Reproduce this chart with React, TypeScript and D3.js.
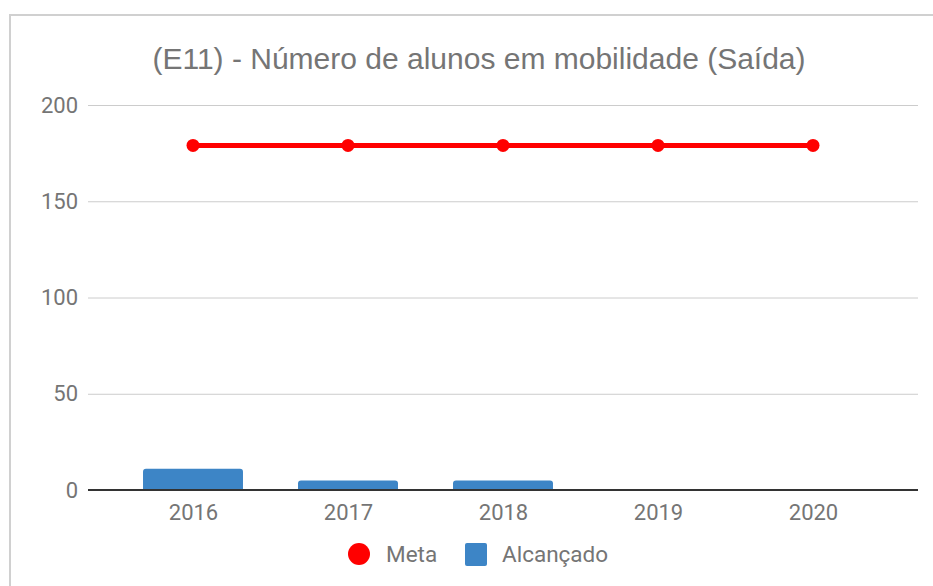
import React, { useEffect, useRef } from "react";
import * as d3 from "d3";

const years = ["2016", "2017", "2018", "2019", "2020"];
const meta = [179, 179, 179, 179, 179];
const alcancado = [11, 5, 5, 0, 0];
const yTicks = [0, 50, 100, 150, 200];

const W = 933;
const H = 586;

const App = () => {
  const svgRef = useRef<SVGSVGElement>(null);

  useEffect(() => {
    const svg = d3.select(svgRef.current);
    svg.selectAll("*").remove(); // start clean

    const plot = { left: 88, right: 918, top: 105, bottom: 490 };

    const x = d3.scalePoint<string>().domain(years).range([193, 813]);
    const barW = x.step() * 0.645;
    const y = d3.scaleLinear().domain([0, 200]).range([plot.bottom, plot.top]);

    // frame (only top and left edges are visible in the crop)
    svg
      .append("path")
      .attr("d", `M10,${H} L10,15 L${W},15`)
      .attr("fill", "none")
      .attr("stroke", "#d0d0d0")
      .attr("stroke-width", 2);

    // title
    svg
      .append("text")
      .attr("x", 479)
      .attr("y", 69)
      .attr("text-anchor", "middle")
      .attr("font-family", "Liberation Sans, Arial, sans-serif")
      .attr("font-size", 30)
      .attr("fill", "#757575")
      .text("(E11) - Número de alunos em mobilidade (Saída)");

    // grid
    const yAxis = d3
      .axisLeft(y)
      .tickValues(yTicks)
      .tickSize(-(plot.right - plot.left))
      .tickPadding(10)
      .tickFormat(d3.format("d"));
    const gy = svg
      .append("g")
      .attr("transform", `translate(${plot.left},0)`)
      .call(yAxis);
    gy.select(".domain").remove();
    gy.selectAll(".tick line").attr("stroke", "#cccccc").attr("stroke-width", 1);
    gy.selectAll(".tick text")
      .attr("fill", "#757575")
      .attr("font-family", "Roboto, sans-serif")
      .attr("font-size", 22);

    // bars
    svg
      .append("g")
      .selectAll("path")
      .data(alcancado.map((v, i) => ({ v, yr: years[i] })).filter((d) => d.v > 0))
      .join("path")
      .attr("fill", "#3d85c6")
      .attr("d", (d) => {
        const x0 = x(d.yr)! - barW / 2;
        const x1 = x0 + barW;
        const yt = y(d.v);
        const yb = y(0);
        const r = Math.min(3, yb - yt);
        return `M${x0},${yb} L${x0},${yt + r} Q${x0},${yt} ${x0 + r},${yt} L${x1 - r},${yt} Q${x1},${yt} ${x1},${yt + r} L${x1},${yb} Z`;
      });

    // baseline
    svg
      .append("line")
      .attr("x1", plot.left)
      .attr("x2", plot.right)
      .attr("y1", y(0))
      .attr("y2", y(0))
      .attr("stroke", "#333333")
      .attr("stroke-width", 2);

    // x labels
    const xAxis = d3.axisBottom(x).tickSize(0).tickPadding(14);
    const gx = svg
      .append("g")
      .attr("transform", `translate(0,${y(0)})`)
      .call(xAxis);
    gx.select(".domain").remove();
    gx.selectAll(".tick text")
      .attr("fill", "#757575")
      .attr("font-family", "Roboto, sans-serif")
      .attr("font-size", 22);

    // meta line
    const line = d3
      .line<number>()
      .x((_, i) => x(years[i])!)
      .y((d) => y(d));
    svg
      .append("path")
      .datum(meta)
      .attr("fill", "none")
      .attr("stroke", "#ff0000")
      .attr("stroke-width", 5)
      .attr("d", line);
    svg
      .append("g")
      .selectAll("circle")
      .data(meta)
      .join("circle")
      .attr("cx", (_, i) => x(years[i])!)
      .attr("cy", (d) => y(d))
      .attr("r", 6.5)
      .attr("fill", "#ff0000");

    // legend
    const lg = svg.append("g").attr("font-family", "Roboto, sans-serif").attr("font-size", 22.5).attr("fill", "#757575");
    lg.append("circle").attr("cx", 359).attr("cy", 554).attr("r", 11).attr("fill", "#ff0000");
    lg.append("text").attr("x", 386).attr("y", 562).text("Meta");
    lg.append("rect")
      .attr("x", 465)
      .attr("y", 543)
      .attr("width", 22)
      .attr("height", 23)
      .attr("rx", 2)
      .attr("fill", "#3d85c6");
    lg.append("text").attr("x", 502).attr("y", 562).text("Alcançado");
  }, []);

  return (
    <svg
      ref={svgRef}
      width={W}
      height={H}
      style={{ position: "absolute", left: 0, top: 0, background: "#fff" }}
    />
  );
};

export default App;
